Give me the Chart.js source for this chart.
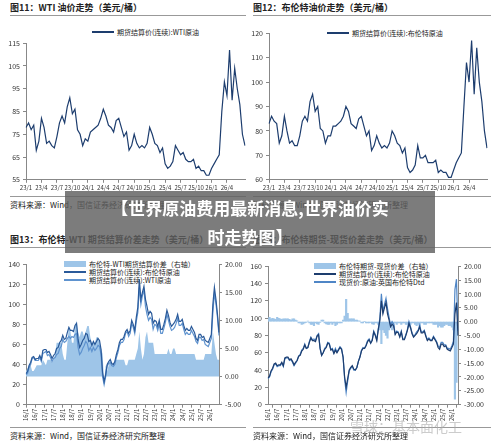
<!DOCTYPE html>
<html><head><meta charset="utf-8">
<script src="https://cdn.jsdelivr.net/npm/chart.js@4"></script>
<style>
body{margin:0;width:500px;height:443px;background:#fff;position:relative;overflow:hidden;font-family:"Noto Sans CJK SC",sans-serif;color:#222}
.a{position:absolute}
.t{font-size:9px;font-weight:bold;white-space:nowrap}
.s{font-size:8px;white-space:nowrap}
.hl{height:1px;background:#999}
.lg{font-size:7px;white-space:nowrap;display:flex;align-items:center;line-height:8px}
.lg i{display:inline-block;width:22px;height:2px;margin-right:3px}
.lg b{display:inline-block;width:22px;height:6px;margin-right:3px}
#ban{left:65px;top:191px;width:370px;height:62px;background:rgba(95,95,95,0.82);color:#fff;font-weight:bold;font-size:17px;text-align:center;line-height:29px;padding-top:2px;box-sizing:border-box}
</style></head><body>
<div class="a t" style="left:10px;top:1px">图11：WTI 油价走势（美元/桶）</div>
<div class="a hl" style="left:10px;top:15px;width:236px"></div>
<div class="a t" style="left:253px;top:1px">图12：布伦特油价走势（美元/桶）</div>
<div class="a hl" style="left:253px;top:15px;width:238px"></div>
<div class="a t" style="left:10px;top:233px">图13：布伦特-WTI 期货结算价差走势（美元/桶）</div>
<div class="a hl" style="left:10px;top:247px;width:236px"></div>
<div class="a t" style="left:253px;top:233px">图14：布伦特期货-现货价差走势（美元/桶）</div>
<div class="a hl" style="left:253px;top:247px;width:238px"></div>

<div class="a lg" style="left:92px;top:28px"><i style="background:#1d3d6e"></i>期货结算价(连续):WTI原油</div>
<div class="a lg" style="left:327px;top:29px"><i style="background:#1d3d6e"></i>期货结算价(连续):布伦特原油</div>
<div class="a lg" style="left:64px;top:260px"><b style="background:#9ec5e8"></b>布伦特-WTI期货结算价差（右轴）</div>
<div class="a lg" style="left:64px;top:268px"><i style="background:#2a5a9a"></i>期货结算价(连续):布伦特原油</div>
<div class="a lg" style="left:64px;top:276px"><i style="background:#5f93cf"></i>期货结算价(连续):WTI原油</div>
<div class="a lg" style="left:314px;top:262px"><b style="background:#9ec5e8"></b>布伦特期货-现货价差（右轴）</div>
<div class="a lg" style="left:314px;top:270px"><i style="background:#1d3d6e"></i>期货结算价(连续):布伦特原油</div>
<div class="a lg" style="left:314px;top:278px"><i style="background:#4f86c6"></i>现货价:原油:英国布伦特Dtd</div>

<div class="a" style="left:0;top:36px;width:250px;height:156px"><canvas id="c1"></canvas></div>
<div class="a" style="left:250px;top:26px;width:250px;height:166px"><canvas id="c2"></canvas></div>
<div class="a" style="left:0;top:257px;width:250px;height:165px"><canvas id="c3"></canvas></div>
<div class="a" style="left:250px;top:259px;width:250px;height:163px"><canvas id="c4"></canvas></div>

<div class="a hl" style="left:10px;top:196px;width:236px"></div>
<div class="a hl" style="left:253px;top:196px;width:238px"></div>
<div class="a hl" style="left:10px;top:427px;width:236px"></div>
<div class="a hl" style="left:253px;top:427px;width:238px"></div>
<div class="a s" style="left:10px;top:199px">资料来源：Wind，国信证券经济研究所整理</div>
<div class="a s" style="left:253px;top:199px">资料来源：Wind，国信证券经济研究所整理</div>
<div class="a s" style="left:10px;top:430px">资料来源：Wind，国信证券经济研究所整理</div>
<div class="a s" style="left:253px;top:430px">资料来源：Wind，国信证券经济研究所整理</div>
<div class="a" style="left:350px;top:416px;font-size:14px;color:rgba(170,170,170,0.6)">雪球：基本面化工</div>
<div class="a" id="ban">【世界原油费用最新消息,世界油价实<br>时走势图】</div>

<script>
// ---- data ----
const ticks1 = ['23/1','23/4','23/7','23/10','24/1','24/4','24/7','24/10','25/1','25/4','25/7','25/10','26/1','26/4'];
const wti = [78,80,77,79,68,72,82,78,71,72,70,69,74,80,83,80,87,91,84,86,77,75,70,73,
  72,76,77,78,79,82,86,83,79,78,76,81,82,78,74,76,68,70,75,71,69,70,69,71,
  78,75,71,70,67,69,62,60,61,63,70,68,66,67,64,63,63,64,60,61,59,59,57,57,
  60,62,64,66,85,98,92,112,90,104,95,88,75,70];
const brent = [83,86,84,83,75,78,86,80,75,76,74,74,78,84,86,84,92,95,88,90,81,80,75,78,
  78,82,82,83,84,86,90,88,83,82,81,85,86,82,78,80,72,74,78,75,73,74,73,75,
  80,78,75,74,71,73,65,63,64,66,74,69,69,70,67,67,67,68,63,64,63,63,61,61,
  64,67,69,71,90,108,100,117,95,114,100,92,80,73];
const ticks3 = ['16/1','16/7','17/1','17/7','18/1','18/7','19/1','19/7','20/1','20/7','21/1','21/7','22/1','22/7','23/1','23/7','24/1','24/7','25/1','25/7','26/1'];
const brent3 = [31,33,39,42,47,48,45,46,46,49,45,54, 55,55,52,53,50,46,49,51,56,57,62,64,
  69,65,66,72,77,74,74,73,79,81,65,57, 60,64,66,71,70,63,64,59,63,60,63,66,
  64,55,32,23,30,40,43,45,41,40,43,50, 55,62,65,65,68,73,75,71,74,84,80,74,
  87,97,125,105,112,118,105,98,90,93,91,81, 84,83,78,84,75,75,80,86,94,89,82,78,
  80,82,85,90,83,83,85,79,74,76,74,74, 78,75,72,66,64,70,70,67,68,64,63,62,
  66,70,100,117,105,90,72];
const wti3 = [30,31,37,40,46,47,44,44,44,47,43,51, 52,53,49,50,47,43,46,47,50,51,56,58,
  65,62,63,66,68,66,68,67,70,71,57,50, 52,56,59,63,61,54,57,53,57,54,56,59,
  58,50,28,20,28,39,41,42,39,38,40,47, 52,59,62,62,65,71,73,68,71,81,77,71,
  83,92,117,100,109,114,98,90,84,87,85,75, 80,79,74,80,71,71,76,82,90,84,78,74,
  75,77,81,86,79,79,81,75,70,72,70,70, 74,71,68,63,61,67,67,64,65,60,59,58,
  62,66,92,111,101,87,69];
const spread3 = [1,1.5,2,2,1,1,1.5,2,2,2,2,3, 2.5,2,3,3,3,2.5,3,4,6,6,6,6,
  4,3,3,6,9,8,6,6,9,10,8,7, 8,8,7,8,9,9,7,6,6,6,7,7,
  6,5,4,-1,2,1,2,3,2,2,3,3, 3,3,3,3,3,2,2,3,3,3,3,3,
  4,5,8,5,3,4,7,8,6,6,6,6, 4,4,4,4,4,4,4,4,4,5,4,4,
  5,5,4,4,4,4,4,4,4,4,4,4, 4,4,4,3,3,3,3,3,3,4,4,4,
  4,4,8,6,4,3,3];
const fut4 = [31,33,39,42,47,48,45,46,46,49,45,54, 55,55,52,53,50,46,49,51,56,57,62,64,
  69,65,66,72,77,74,74,73,79,81,65,57, 60,64,66,71,70,63,64,59,63,60,63,66,
  64,55,32,20,30,40,43,45,41,40,43,50, 55,62,65,65,68,73,75,71,74,84,80,74,
  87,97,120,105,112,118,105,98,90,93,91,81, 84,83,78,84,75,75,80,86,94,89,82,78,
  80,82,85,90,83,83,85,79,74,76,74,74, 78,75,72,66,64,70,70,67,68,64,63,62,
  66,70,105,118,80];
const dtd4 = [30,32,38,41,46,47,44,45,45,48,44,53, 54,54,51,52,49,45,48,51,56,58,63,65,
  70,65,66,73,78,75,76,74,80,82,65,57, 60,65,67,72,71,64,65,60,65,61,64,67,
  65,55,30,14,27,39,42,44,40,40,43,50, 55,63,66,65,69,74,76,71,75,85,81,75,
  88,100,128,108,116,123,111,101,92,96,93,82, 85,84,79,85,76,76,81,87,96,90,83,79,
  81,84,86,92,84,84,86,80,75,77,75,75, 79,76,73,68,66,72,72,69,69,65,65,64,
  68,73,133,145,85];
const spread4 = [1,1.5,1,1.2,1,0.8,1.5,1.2,1,0.8,1,1, 1,1,0.8,0.5,1,1,0.5,0.3,-0.5,-0.5,-1,-0.8,
  -0.5,-0.3,0.2,-0.5,-1,-1,-1.5,-0.5,-0.8,-1,-0.3,0.5, 0.5,-0.5,-0.8,-1,-1,-0.5,-1,-0.5,-1.5,-1,-0.5,-0.5,
  -0.5,0.5,2,8,3,1,1,1,1,0.5,0.5,0.3, 0.2,-0.5,-0.5,0,-0.5,-0.5,-0.5,-0.3,-0.8,-1,-0.5,-0.5,
  -1,-3,-8,-3,-4,-5,-6,-3,-2,-3,-2,-0.5, -1,-0.5,-0.5,-1,-0.5,-0.5,-1,-1,-2,-1,-0.5,-0.5,
  -1,-1.5,-1,-1.5,-0.5,-0.5,-1,-1,-0.5,-0.5,-0.5,-0.5, -1,-1,-1,-2,-1.5,-2,-2,-1.5,-1,-1,-1.5,-1.5,
  -2,-3,-28,-22,-5];

// ---- categories ----
function halfMonths(n){const o=[];for(let i=0;i<n;i++){const m=Math.floor(i/2);const y=23+Math.floor(m/12);const mm=m%12+1;o.push(y+'/'+mm+(i%2?'b':''));}return o;}
function months(n){const o=[];for(let i=0;i<n;i++){o.push((16+Math.floor(i/12))+'/'+(i%12+1));}return o;}
const cat1 = halfMonths(wti.length), cat3 = months(brent3.length), cat4 = months(fut4.length);

Chart.defaults.font.family = '"Noto Sans CJK SC", sans-serif';
Chart.defaults.font.size = 7;
Chart.defaults.color = '#333';
Chart.defaults.animation = false;

function xAxis(list, rot){
  return {type:'category', offset:false,
    afterBuildTicks:s=>{s.ticks=s.ticks.filter(t=>list.includes(s.getLabelForValue(t.value)));},
    ticks:{autoSkip:false, padding:1, minRotation:rot, maxRotation:rot, font:{size:6},callback:function(v){return this.getLabelForValue(v);}},
    grid:{drawOnChartArea:false, tickLength:3, color:'#888'}, border:{color:'#888'}};
}
function yAxis(min,max,step,w,pos,fmt){
  return {position:pos, min, max, afterFit:s=>{s.width=w;},
    ticks:{stepSize:step, padding:3, callback:fmt||(v=>v)},
    grid:{drawOnChartArea:false, tickLength:3, color:'#888'}, border:{color:'#888'}};
}
const line=(d,c,ax)=>({type:'line',data:d,borderColor:c,borderWidth:1.2,pointRadius:0,yAxisID:ax||'y'});
const base={responsive:true,maintainAspectRatio:false,plugins:{legend:{display:false},tooltip:{enabled:false}}};

new Chart(c1,{type:'line',data:{labels:cat1,datasets:[line(wti,'#1d3d6e')]},
  options:{...base,layout:{padding:{top:4,right:5}},scales:{x:xAxis(ticks1,0),y:yAxis(55,115,10,26,'left')}}});
new Chart(c2,{type:'line',data:{labels:cat1,datasets:[line(brent,'#1d3d6e')]},
  options:{...base,layout:{padding:{top:4,right:13}},scales:{x:xAxis(ticks1,0),y:yAxis(60,120,10,19,'left')}}});
new Chart(c3,{data:{labels:cat3,datasets:[
  {...line(spread3,'rgba(0,0,0,0)','y2'),fill:'origin',backgroundColor:'#9ec5e8',borderWidth:0,order:3},
  {...line(wti3,'#5f93cf'),order:2},
  {...line(brent3,'#2a5a9a'),order:1}]},
  options:{...base,layout:{padding:{top:4}},scales:{x:xAxis(ticks3,90),y:yAxis(0,140,20,26,'left'),
    y2:yAxis(-5,20,5,31,'right',v=>v.toFixed(2))}}});
new Chart(c4,{data:{labels:cat4,datasets:[
  {type:'bar',data:spread4,yAxisID:'y2',backgroundColor:'#9ec5e8',barPercentage:1,categoryPercentage:1,order:3},
  {...line(dtd4,'#4f86c6'),order:2},
  {...line(fut4,'#1d3d6e'),order:1}]},
  options:{...base,layout:{padding:{top:2}},scales:{x:{...xAxis(ticks3,90),offset:false},y:yAxis(0,160,20,18,'left'),
    y2:yAxis(-30,20,5,42,'right',v=>v.toFixed(2))}}});
</script>
</body></html>
